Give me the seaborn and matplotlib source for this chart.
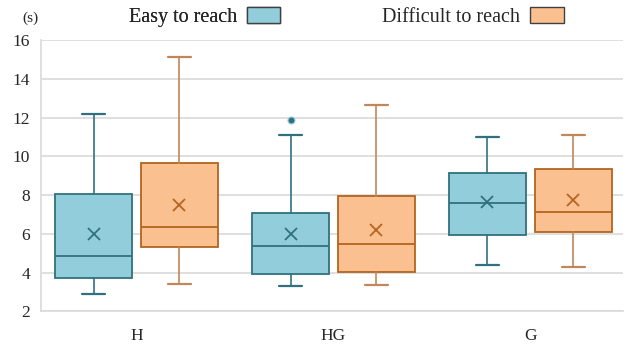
import numpy as np
import matplotlib
matplotlib.use("Agg")
import matplotlib.pyplot as plt
import seaborn as sns
from matplotlib.patches import Patch

categories = ["H", "HG", "G"]
groups = ["Easy to reach", "Difficult to reach"]

# five-number summaries + mean
easy_whislo = [2.89, 3.29, 4.39]
easy_q1 = [3.73, 3.94, 5.92]
easy_med = [4.87, 5.39, 7.59]
easy_q3 = [8.08, 7.09, 9.16]
easy_whishi = [12.16, 11.11, 11.00]
easy_mean = [6.01, 5.97, 7.66]
easy_fliers = [[], [11.90], []]

diff_whislo = [3.44, 3.39, 4.28]
diff_q1 = [5.32, 4.06, 6.11]
diff_med = [6.37, 5.49, 7.15]
diff_q3 = [9.66, 7.97, 9.33]
diff_whishi = [15.12, 12.66, 11.11]
diff_mean = [7.51, 6.22, 7.73]
diff_fliers = [[], [], []]

y_ticks = [2, 4, 6, 8, 10, 12, 14, 16]

sns.set_theme(style="whitegrid")
plt.rcParams["font.family"] = ["Liberation Serif", "DejaVu Serif"]

EASY_FILL, EASY_EDGE = "#92CDDC", "#31717F"
DIFF_FILL, DIFF_EDGE = "#FAC090", "#B4651F"
DIFF_WHISK = "#C0875A"

fig = plt.figure(figsize=(6.35, 3.48), dpi=100)
ax = fig.add_axes([0.0646, 0.105, 0.9165, 0.78])


def stats(wl, q1, med, q3, wh, mean, fl):
    return [dict(whislo=a, q1=b, med=c, q3=d, whishi=e, mean=m, fliers=f)
            for a, b, c, d, e, m, f in zip(wl, q1, med, q3, wh, mean, fl)]


pos = np.arange(len(categories))
specs = [
    (stats(easy_whislo, easy_q1, easy_med, easy_q3, easy_whishi, easy_mean, easy_fliers),
     pos - 0.218, EASY_FILL, EASY_EDGE, EASY_EDGE),
    (stats(diff_whislo, diff_q1, diff_med, diff_q3, diff_whishi, diff_mean, diff_fliers),
     pos + 0.218, DIFF_FILL, DIFF_EDGE, DIFF_WHISK),
]
for st, p, fill, edge, wcol in specs:
    ax.bxp(st, positions=p, widths=0.39, patch_artist=True, showmeans=True,
           capwidths=0.12, manage_ticks=False,
           boxprops=dict(facecolor=fill, edgecolor=edge, linewidth=1.3),
           medianprops=dict(color=edge, linewidth=1.3),
           whiskerprops=dict(color=wcol, linewidth=1.2),
           capprops=dict(color=wcol, linewidth=1.6),
           meanprops=dict(marker="x", markeredgecolor=edge, markersize=9,
                          markeredgewidth=1.3, linestyle="none"),
           flierprops=dict(marker="o", markerfacecolor=edge, markeredgecolor=EASY_FILL,
                           markersize=5, markeredgewidth=0.8),
           zorder=3)

ax.set_xlim(-0.485, 2.47)
ax.set_ylim(2, 16)
ax.set_yticks(y_ticks)
ax.set_yticklabels([str(t) for t in y_ticks], fontsize=12.5)
ax.set_xticks(pos)
ax.set_xticklabels(categories, fontsize=12.5)
ax.tick_params(axis="x", pad=12, length=0)
ax.tick_params(axis="y", pad=8, length=0)
ax.grid(axis="y", color="#D9D9D9", linewidth=1.2)
ax.grid(axis="x", visible=False)
for s in ["top", "right"]:
    ax.spines[s].set_visible(False)
for s in ["left", "bottom"]:
    ax.spines[s].set_color("#D9D9D9")
    ax.spines[s].set_linewidth(1.2)
ax.set_axisbelow(True)

fig.text(0.035, 0.948, "(s)", fontsize=11, ha="left", va="center")

common = dict(loc="center", frameon=False, markerfirst=False, fontsize=14.5,
              handlelength=1.65, handleheight=0.85, handletextpad=0.5, borderpad=0)
leg1 = fig.legend(handles=[Patch(facecolor=EASY_FILL, edgecolor="#404040", label=groups[0])],
                  bbox_to_anchor=(0.322, 0.952), **common)
leg2 = fig.legend(handles=[Patch(facecolor=DIFF_FILL, edgecolor="#404040", label=groups[1])],
                  bbox_to_anchor=(0.745, 0.952), **common)
fig.add_artist(leg1)

fig.savefig("out.png", dpi=100)
